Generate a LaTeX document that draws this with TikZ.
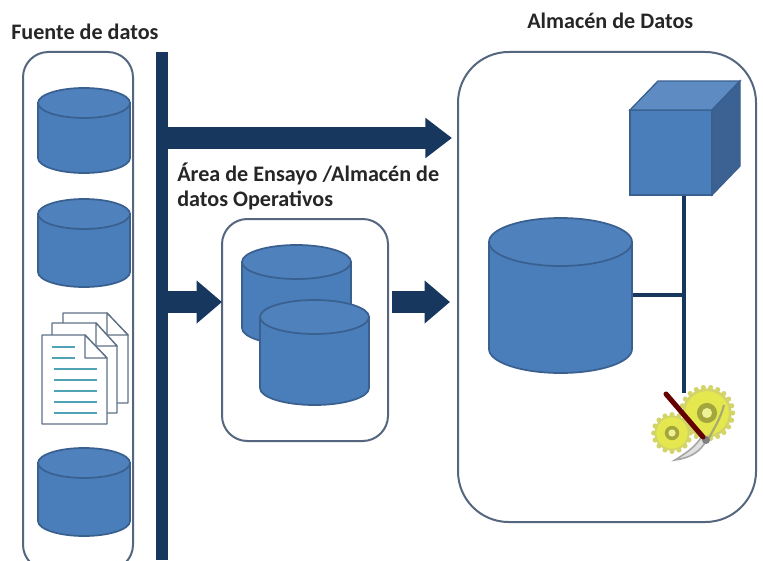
\documentclass[tikz,border=0pt]{standalone}
\usepackage{fontspec}
\setmainfont{Carlito}
\usetikzlibrary{arrows.meta,calc}
\definecolor{cylbody}{HTML}{4A7EBB}
\definecolor{cyltop}{HTML}{4F81BD}
\definecolor{cylline}{HTML}{3A6090}
\definecolor{navy}{HTML}{17375E}
\definecolor{boxline}{HTML}{55677F}
\definecolor{pageline}{HTML}{5F7186}
\definecolor{textline}{HTML}{4FA3B5}
\definecolor{gearfill}{HTML}{E4E84E}
\definecolor{gearline}{HTML}{D2D468}
\definecolor{geardark}{HTML}{A3A63C}
\tikzset{
  x=0.75pt,y=-0.75pt,
  panel/.style={draw=boxline,line width=1.5pt,fill=white,rounded corners=#1},
  cylshape/.style={draw=cylline,line width=1.3pt,fill=cylbody},
  cyllid/.style={draw=cylline,line width=1.3pt,fill=cyltop},
  bigarrow/.style={navy,line width=16.5pt,-{Triangle[length=20pt,width=29pt]}},
  midarrow/.style={navy,line width=16pt,-{Triangle[length=19pt,width=31pt]}},
  wire/.style={draw=navy,line width=3pt},
  title/.style={font=\bfseries\fontsize{16.6pt}{20pt}\selectfont,text=black!85,inner sep=0pt},
  pagesheet/.style={draw=pageline,line width=1pt,fill=white,line join=round},
  pagetext/.style={draw=textline,line width=1pt},
}
% \cyl{name}{left}{right}{top}{bottom}{ry}
\newcommand{\cyl}[6]{%
  \pgfmathsetmacro{\cx}{(#2+#3)/2}\pgfmathsetmacro{\rx}{(#3-#2)/2}
  \pgfmathsetmacro{\rxp}{\rx*0.75}\pgfmathsetmacro{\ryp}{#6*0.75}
  \path[cylshape] (#2,#4+#6) -- (#2,#5-#6) arc[start angle=180,end angle=360,x radius=\rxp pt,y radius=\ryp pt] -- (#3,#4+#6) -- cycle;
  \path[cyllid] (\cx,#4+#6) ellipse[x radius=\rxp pt,y radius=\ryp pt];
  \coordinate (#1) at (\cx,{(#4+#5)/2});
}
% \gearwheel{cx}{cy}{radius}{teeth}
\newcommand{\gearwheel}[4]{%
  \pgfmathsetmacro{\tstep}{360/#4}
  \foreach \k in {1,...,#4}{
    \fill[gearline] ($(#1,#2)+({\k*\tstep}:#3*0.75pt*0.92)$) circle[radius=1.9pt];
  }
  \fill[gearline] (#1,#2) circle[radius=#3*0.75pt*0.88];
  \fill[gearfill] (#1,#2) circle[radius=#3*0.75pt*0.78];
  \fill[geardark] (#1,#2) circle[radius=#3*0.75pt*0.36];
  \fill[gearfill!60!white] (#1,#2) circle[radius=#3*0.75pt*0.18];
}
\begin{document}
\begin{tikzpicture}
\useasboundingbox (0,0) rectangle (763,560);
\fill[white] (0,0) rectangle (763,560);
\begin{scope}
\clip (0,0) rectangle (763,560);
% panels
\path[panel=19pt] (23,52) rectangle (133,570);
\path[panel=19pt] (222,219) rectangle (388,441);
\path[panel=38pt] (458,52) rectangle (756,522);
% bus bar
\coordinate (bartop) at (162,52);
\coordinate (barbot) at (162,560);
\draw[navy,line width=9pt] (bartop) -- (barbot);
\end{scope}
% source cylinders
\cyl{srcA}{38}{130}{88}{173}{15}
\cyl{srcB}{38}{130}{199}{287}{15}
\cyl{srcC}{38}{130}{448}{536}{15}
% documents
\path[pagesheet] (63,313) -- (107,313) -- (128,335) -- (128,403) -- (63,403) -- cycle;
\path[pagesheet] (107,313) -- (107,335) -- (128,335) -- cycle;
\path[pagesheet] (52,323) -- (96,323) -- (117,346) -- (117,413) -- (52,413) -- cycle;
\path[pagesheet] (96,323) -- (96,346) -- (117,346) -- cycle;
\path[pagesheet] (42,335) -- (85,335) -- (107,358) -- (107,424) -- (42,424) -- cycle;
\path[pagesheet] (85,335) -- (85,358) -- (107,358) -- cycle;
\draw[pagetext] (52,347) -- (75,347);
\draw[pagetext] (52,358) -- (75,358);
\foreach \yy in {369,380,391,402,413} \draw[pagetext] (54,\yy) -- (97,\yy);
% staging cylinders
\cyl{stageA}{242}{351}{245}{345}{17}
\cyl{stageB}{260}{369}{300}{405}{17}
% warehouse connectors (under shapes)
\coordinate (cubefoot) at (684,190);
\coordinate (gearhead) at (684,393);
\coordinate (junction) at (684,295);
\coordinate (cylside) at (632,295);
\draw[wire] (cubefoot) -- (gearhead);
\draw[wire] (cylside) -- (junction);
% warehouse cylinder
\cyl{dw}{489}{632}{218}{373}{24}
% cube
\path[draw=cylline,line width=1pt,fill=cylbody] (630,110) rectangle (712,195);
\path[draw=cylline,line width=1pt,fill=cyltop!92!white] (630,110) -- (658,81) -- (740,81) -- (712,110) -- cycle;
\path[draw=cylline,line width=1pt,fill=cylline!92!cylbody] (712,110) -- (740,81) -- (740,166) -- (712,195) -- cycle;
% arrows
\coordinate (a1s) at (168,138); \coordinate (a1e) at (452,138);
\coordinate (a2s) at (168,302); \coordinate (a2e) at (222,302);
\coordinate (a3s) at (392,302); \coordinate (a3e) at (450,302);
\draw[bigarrow] (a1s) -- (a1e);
\draw[midarrow] (a2s) -- (a2e);
\draw[midarrow] (a3s) -- (a3e);
% gears and tools
\gearwheel{707}{413}{28}{22}
\gearwheel{672}{433}{20}{16}
\draw[draw=black!35,line width=1.2pt,fill=black!12] (706,441) .. controls (700,452) and (690,458) .. (675,460) .. controls (688,452) and (696,446) .. (702,436) -- cycle;
\draw[geardark!80!black!70,line width=1.6pt] (709,438) .. controls (714,428) and (720,420) .. (724,405);
\fill[black!50] (706,440) circle[radius=3pt];
\draw[line cap=round,line width=3.8pt,draw=red!40!black] (666,394) -- (703,437);
% titles
\node[title,anchor=base west] (lblsrc) at (11,40) {Fuente de datos};
\node[title,anchor=base west] (lbldw) at (527,29) {Almacén de Datos};
\node[title,anchor=base west] (lblstage1) at (177,181) {Área de Ensayo /Almacén de};
\node[title,anchor=base west] (lblstage2) at (177,206) {datos Operativos};
\end{tikzpicture}
\end{document}
